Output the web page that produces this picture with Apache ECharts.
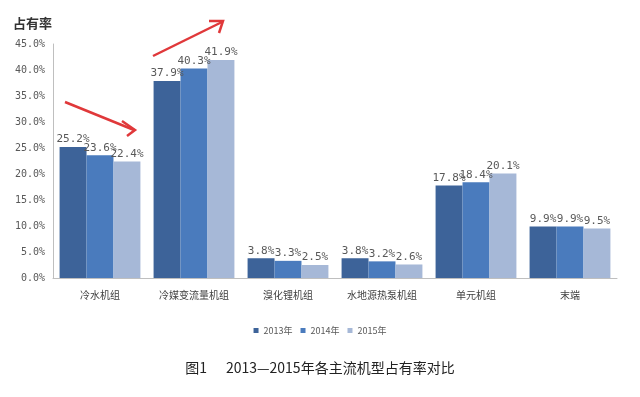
<!DOCTYPE html>
<html><head><meta charset="utf-8">
<script src="https://cdn.jsdelivr.net/npm/echarts@6/dist/echarts.min.js"></script>
<style>html,body{margin:0;padding:0;background:#fff}#c{width:640px;height:397px}</style>
</head><body><div id="c"></div>
<script>
const categories = ['冷水机组','冷媒变流量机组','溴化锂机组','水地源热泵机组','单元机组','末端'];
const s2013 = [25.2, 37.9, 3.8, 3.8, 17.8, 9.9];
const s2014 = [23.6, 40.3, 3.3, 3.2, 18.4, 9.9];
const s2015 = [22.4, 41.9, 2.5, 2.6, 20.1, 9.5];
const seriesNames = ['2013年','2014年','2015年'];
const colors = ['#3d6399','#4a7bbd','#a6b8d7'];

const chart = echarts.init(document.getElementById('c'));
const lab = {show:true, position:'top', distance:2, color:'#595959', fontSize:11, fontFamily:'DejaVu Sans Mono', formatter: p => p.value.toFixed(1) + '%'};
const mk = (name, data, color) => ({name, type:'bar', data, barGap:'0%', barCategoryGap:'14%', itemStyle:{color}, label:lab});
chart.setOption({
  animation:false,
  grid:{left:53, right:23, top:44, bottom:119},
  title:[
    {text:'占有率', left:8, top:12, textStyle:{fontSize:13, fontWeight:'bold', color:'#333', fontFamily:'Noto Sans CJK SC'}},
    {text:'图1      2013—2015年各主流机型占有率对比', left:'center', top:356, textStyle:{fontSize:14, fontWeight:'normal', color:'#222', fontFamily:'Noto Sans CJK SC'}}
  ],
  legend:{data:seriesNames, top:321, left:'center', itemWidth:5, itemHeight:5, itemGap:8, icon:'rect', textStyle:{fontSize:9, color:'#595959', fontFamily:'Noto Sans CJK SC'}},
  xAxis:{type:'category', data:categories, axisLine:{lineStyle:{color:'#bfbfbf'}}, axisTick:{show:false}, axisLabel:{color:'#404040', fontSize:10, margin:12, fontFamily:'Noto Sans CJK SC'}},
  yAxis:{type:'value', min:0, max:45, interval:5, axisLine:{show:true, lineStyle:{color:'#bfbfbf'}}, axisTick:{show:false}, splitLine:{show:false}, axisLabel:{color:'#595959', fontSize:10, fontFamily:'DejaVu Sans Mono', formatter: v => v.toFixed(1) + '%'}},
  series:[mk(seriesNames[0], s2013, colors[0]), mk(seriesNames[1], s2014, colors[1]), mk(seriesNames[2], s2015, colors[2])],
  graphic:[
    {type:'line', shape:{x1:65, y1:102, x2:134, y2:130}, style:{stroke:'#e0383a', lineWidth:2.5}},
    {type:'polyline', shape:{points:[[122,121],[135,130],[127,136]]}, style:{stroke:'#e0383a', lineWidth:2.5, fill:null}},
    {type:'line', shape:{x1:153, y1:56, x2:222, y2:22}, style:{stroke:'#e0383a', lineWidth:2.5}},
    {type:'polyline', shape:{points:[[209,21],[223,21],[219,33]]}, style:{stroke:'#e0383a', lineWidth:2.5, fill:null}}
  ]
});
</script></body></html>
